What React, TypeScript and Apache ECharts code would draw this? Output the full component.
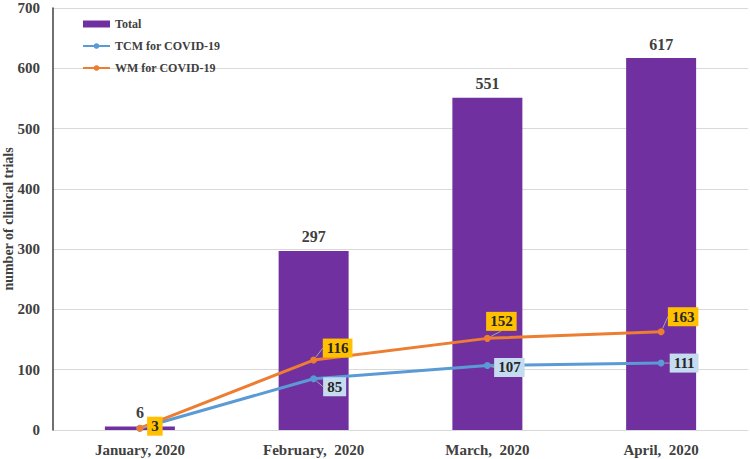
import React, { useEffect, useRef } from "react";
import * as echarts from "echarts";

const categories = ["January, 2020", "February,  2020", "March,  2020", "April,  2020"];
const totalValues = [6, 297, 551, 617];
const tcmValues = [3, 85, 107, 111];
const wmValues = [3, 116, 152, 163];
const yTicks = { min: 0, max: 700, interval: 100 };

const FONT = "'Liberation Serif', 'Times New Roman', serif";
const TXT = "#404040";

const wmOffsets = [[15, -2], [24, -12], [14, -17], [22, -15]];
const tcmOffsets = [[0, 0], [21, 8], [22, 2], [23, 0]];

export default function App() {
  const ref = useRef<HTMLDivElement>(null);
  useEffect(() => {
    if (!ref.current) return;
    const chart = echarts.init(ref.current, undefined, { renderer: "svg" });
    const labelBase = {
      show: true,
      position: "inside" as const,
      fontFamily: FONT,
      fontWeight: "bold" as const,
      fontSize: 15,
      color: "#262626",
      padding: [3, 4, 1, 4],
    };
    chart.setOption({
      animation: false,
      grid: { left: 53, right: 2, top: 8, bottom: 29, containLabel: false, outerBoundsMode: "none" },
      legend: {
        orient: "vertical",
        left: 77,
        top: 13,
        itemGap: 10,
        itemWidth: 27,
        itemHeight: 7,
        textStyle: { fontFamily: FONT, fontWeight: "bold", fontSize: 12, color: TXT },
        data: [
          { name: "Total", icon: "rect", itemStyle: { borderWidth: 0 } },
          { name: "TCM for COVID-19" },
          { name: "WM for COVID-19" },
        ],
      },
      xAxis: {
        type: "category",
        data: categories,
        axisLine: { show: false },
        axisTick: { show: false },
        axisLabel: { fontFamily: FONT, fontWeight: "bold", fontSize: 15, color: TXT, margin: 12 },
      },
      yAxis: {
        type: "value",
        min: yTicks.min,
        max: yTicks.max,
        interval: yTicks.interval,
        name: "number of clinical trials",
        nameLocation: "middle",
        nameGap: 38,
        nameMoveOverlap: false,
        nameTextStyle: { fontFamily: FONT, fontWeight: "bold", fontSize: 14, color: TXT },
        axisLine: { show: true, lineStyle: { color: "#404040", width: 1.5 } },
        axisTick: { show: false },
        axisLabel: { fontFamily: FONT, fontWeight: "bold", fontSize: 15, color: TXT, margin: 13 },
        splitLine: { lineStyle: { color: "#d9d9d9", width: 1 } },
      },
      series: [
        {
          name: "Total",
          type: "bar",
          data: totalValues,
          barWidth: 70,
          itemStyle: { color: "#7030A0" },
          label: {
            show: true,
            position: "top",
            distance: 6,
            fontFamily: FONT,
            fontWeight: "bold",
            fontSize: 16,
            color: TXT,
          },
          z: 1,
        },
        {
          name: "TCM for COVID-19",
          type: "line",
          data: tcmValues.map((v, i) => ({
            value: v,
            label: i === 0 ? { show: false } : undefined,
          })),
          symbol: "circle",
          symbolSize: 7,
          lineStyle: { color: "#5B9BD5", width: 3 },
          itemStyle: { color: "#5B9BD5" },
          label: { ...labelBase, backgroundColor: "#C5DCF0" },
          labelLayout: (p: any) => {
            const o = tcmOffsets[p.dataIndex] || [0, 0];
            return { dx: o[0], dy: o[1] };
          },
          labelLine: { show: true, lineStyle: { color: "#a6a6a6", width: 1 } },
          z: 3,
        },
        {
          name: "WM for COVID-19",
          type: "line",
          data: wmValues,
          symbol: "circle",
          symbolSize: 7,
          lineStyle: { color: "#ED7D31", width: 3 },
          itemStyle: { color: "#ED7D31" },
          label: { ...labelBase, backgroundColor: "#FFC000" },
          labelLayout: (p: any) => {
            const o = wmOffsets[p.dataIndex] || [0, 0];
            return { dx: o[0], dy: o[1] };
          },
          labelLine: { show: true, lineStyle: { color: "#a6a6a6", width: 1 } },
          z: 4,
        },
      ],
    });
    return () => chart.dispose();
  }, []);
  return <div ref={ref} style={{ width: 750, height: 459, position: "absolute", left: 0, top: 0 }} />;
}
